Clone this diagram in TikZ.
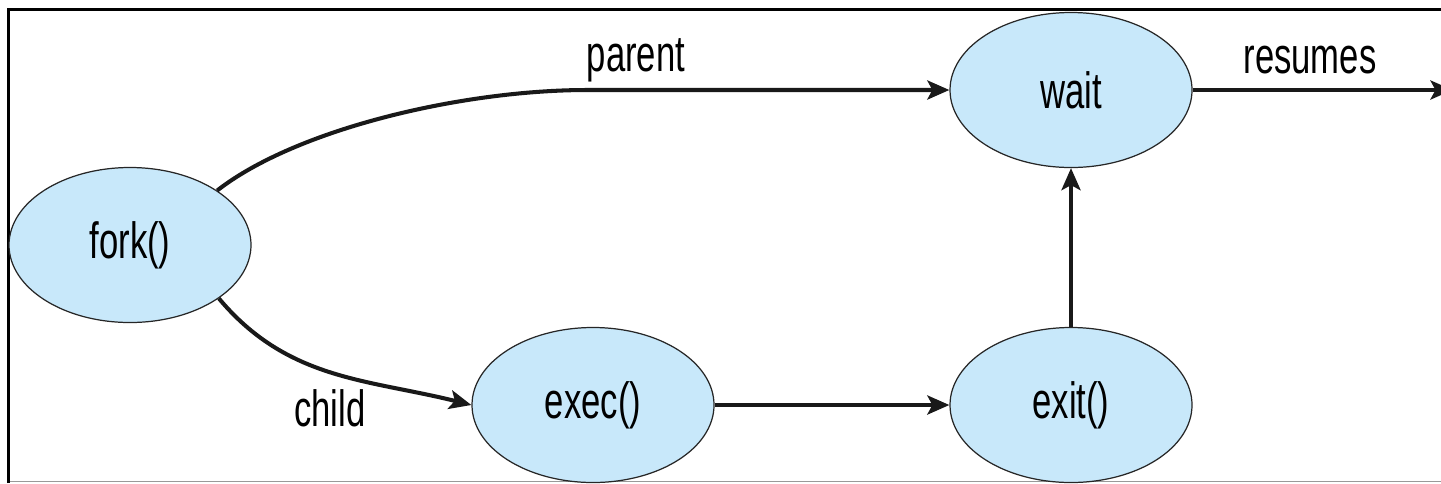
\documentclass[tikz,border=0pt]{standalone}
\usepackage{fontspec}
\setmainfont{Liberation Sans}[FakeStretch=0.68]
\usetikzlibrary{%
	calc,%
	arrows.meta,%
	shapes.geometric,%
	positioning,%
}
\definecolor{cbluelight}{RGB}{200, 232, 250}
\tikzset{
	>={Stealth[length=4.4mm,width=3.8mm,inset=1mm]},%
	callnode/.style={%
			ellipse,%
			draw=black!85,%
			line width=0.7pt,%
			fill=cbluelight,%
			minimum width=4.84cm,%
			minimum height=3.1cm,%
			inner sep=0},%
	flow/.style={%
			->,%
			line width=2.3pt,%
			black!90},%
	lbl/.style={%
			inner sep=0},%
	nodes={font={\fontsize{29}{34}\selectfont}},%
}

\begin{document}
\begin{tikzpicture}
	\useasboundingbox (0,0) rectangle (28.82,-9.66);

	% frame
	\draw[line width=1.7pt] (0.17,-9.66) -- (0.17,-0.19) -- (28.82,-0.19);
	\draw[black!40, line width=0.5pt] (0.2,-9.63) -- (28.82,-9.63);

	\node[callnode] (fork) at (2.6,-4.9) {fork()};
	\node[callnode] (wait) at (21.42,-1.8) {wait};
	\node[callnode] (exec) at (11.86,-8.1) {exec()};
	\node[callnode] (exit) at (21.42,-8.1) {exit()};
	\coordinate (resume) at (29.05,-1.8);

	\draw[flow] (fork.32) .. controls +(38:2) and +(-2.5,0) .. ($(wait.west)+(-7.24,0)$) -- (wait.west);
	\draw[flow] (fork.-31) to[out=-50,in=166] (exec.west);
	\draw[flow] (exec) -- (exit);
	\draw[flow] (exit) -- (wait);
	\draw[flow] (wait.east) -- (resume);

	\node[lbl] (parent) at (12.72,-1.2) {parent};
	\node[lbl] (child) at (6.6,-8.16) {child};
	\node[lbl] (resumes) at (26.2,-1.2) {resumes};
\end{tikzpicture}
\end{document}
